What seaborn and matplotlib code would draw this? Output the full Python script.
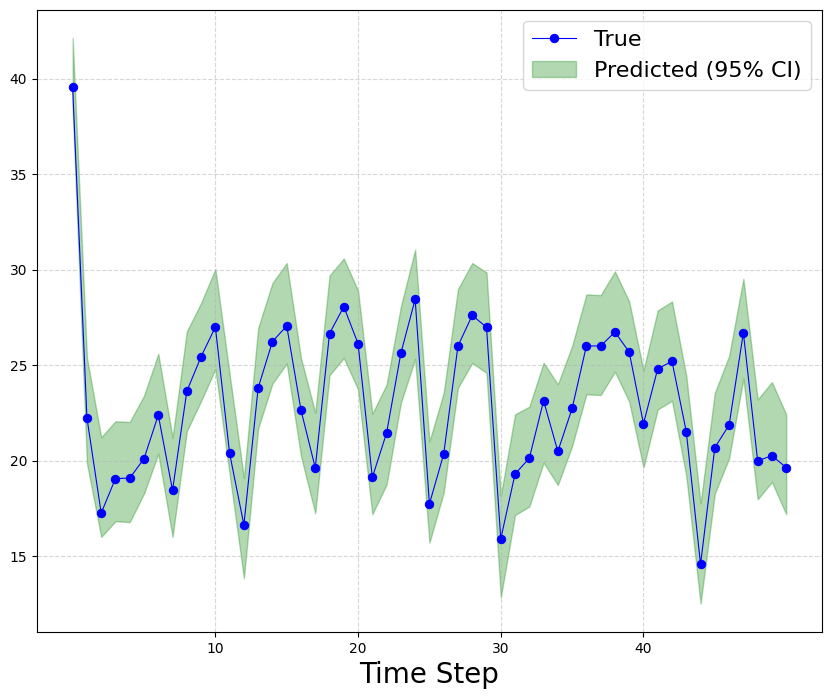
import numpy as np
import pandas as pd
import matplotlib
matplotlib.use("Agg")
import matplotlib.pyplot as plt
import seaborn as sns

# valores
time_step = list(range(51))
true_vals = [39.55, 22.25, 17.26, 19.07, 19.09, 20.11, 22.39, 18.45, 23.64, 25.45, 27.0,
             20.38, 16.64, 23.82, 26.24, 27.06, 22.65, 19.63, 26.66, 28.07, 26.13,
             19.13, 21.46, 25.63, 28.45, 17.74, 20.35, 26.01, 27.61, 26.99, 15.91,
             19.31, 20.13, 23.14, 20.49, 22.74, 26.01, 26.01, 26.74, 25.69, 21.94,
             24.82, 25.2, 21.52, 14.58, 20.69, 21.87, 26.70, 19.99, 20.27, 19.64]
upper = [42.13, 25.4, 21.23, 22.07, 22.03, 23.41, 25.6, 21.21, 26.77, 28.26, 30.03,
         24.53, 19.11, 26.95, 29.30, 30.35, 25.38, 22.51, 29.69, 30.59, 28.9,
         22.46, 23.99, 28.08, 31.05, 21.01, 23.55, 28.99, 30.35, 29.86, 18.16,
         22.43, 22.83, 25.13, 24.0, 26.01, 28.71, 28.67, 29.91, 28.33, 24.73,
         27.87, 28.34, 24.44, 17.77, 23.56, 25.48, 29.53, 23.21, 24.12, 22.43]
lower = [38.5, 19.87, 16.01, 16.83, 16.79, 18.28, 20.37, 16.01, 21.55, 23.13, 24.8,
         19.3, 13.85, 21.69, 24.04, 25.09, 20.24, 17.25, 24.48, 25.38, 23.73,
         17.2, 18.76, 23.03, 25.33, 15.71, 18.33, 23.82, 25.12, 24.6, 12.84,
         17.16, 17.6, 19.9, 18.73, 20.77, 23.48, 23.44, 24.66, 23.09, 19.64,
         22.69, 23.14, 19.2, 12.52, 18.28, 20.13, 24.3, 17.98, 18.89, 17.2]
xticks = [10, 20, 30, 40]

df = pd.DataFrame({"step": time_step, "true": true_vals})

fig, ax = plt.subplots(figsize=(8.31, 6.99), dpi=100)
fig.subplots_adjust(left=0.0445, right=0.989, top=0.986, bottom=0.096)

# banda de prediccion
ax.fill_between(time_step, lower, upper, color="green", alpha=0.3,
                label="Predicted (95% CI)")
# serie real
sns.lineplot(data=df, x="step", y="true", ax=ax, color="blue", marker="o",
             markersize=6, markeredgecolor="blue", linewidth=0.8, label="True")

ax.set_xticks(xticks)
ax.set_xlabel("Time Step", fontsize=20)
ax.set_ylabel("")
ax.grid(True, linestyle="--", alpha=0.5)

h, l = ax.get_legend_handles_labels()
order = [l.index("True"), l.index("Predicted (95% CI)")]
ax.legend([h[i] for i in order], [l[i] for i in order], loc="upper right", fontsize=16)

fig.savefig("out.png", dpi=100)
